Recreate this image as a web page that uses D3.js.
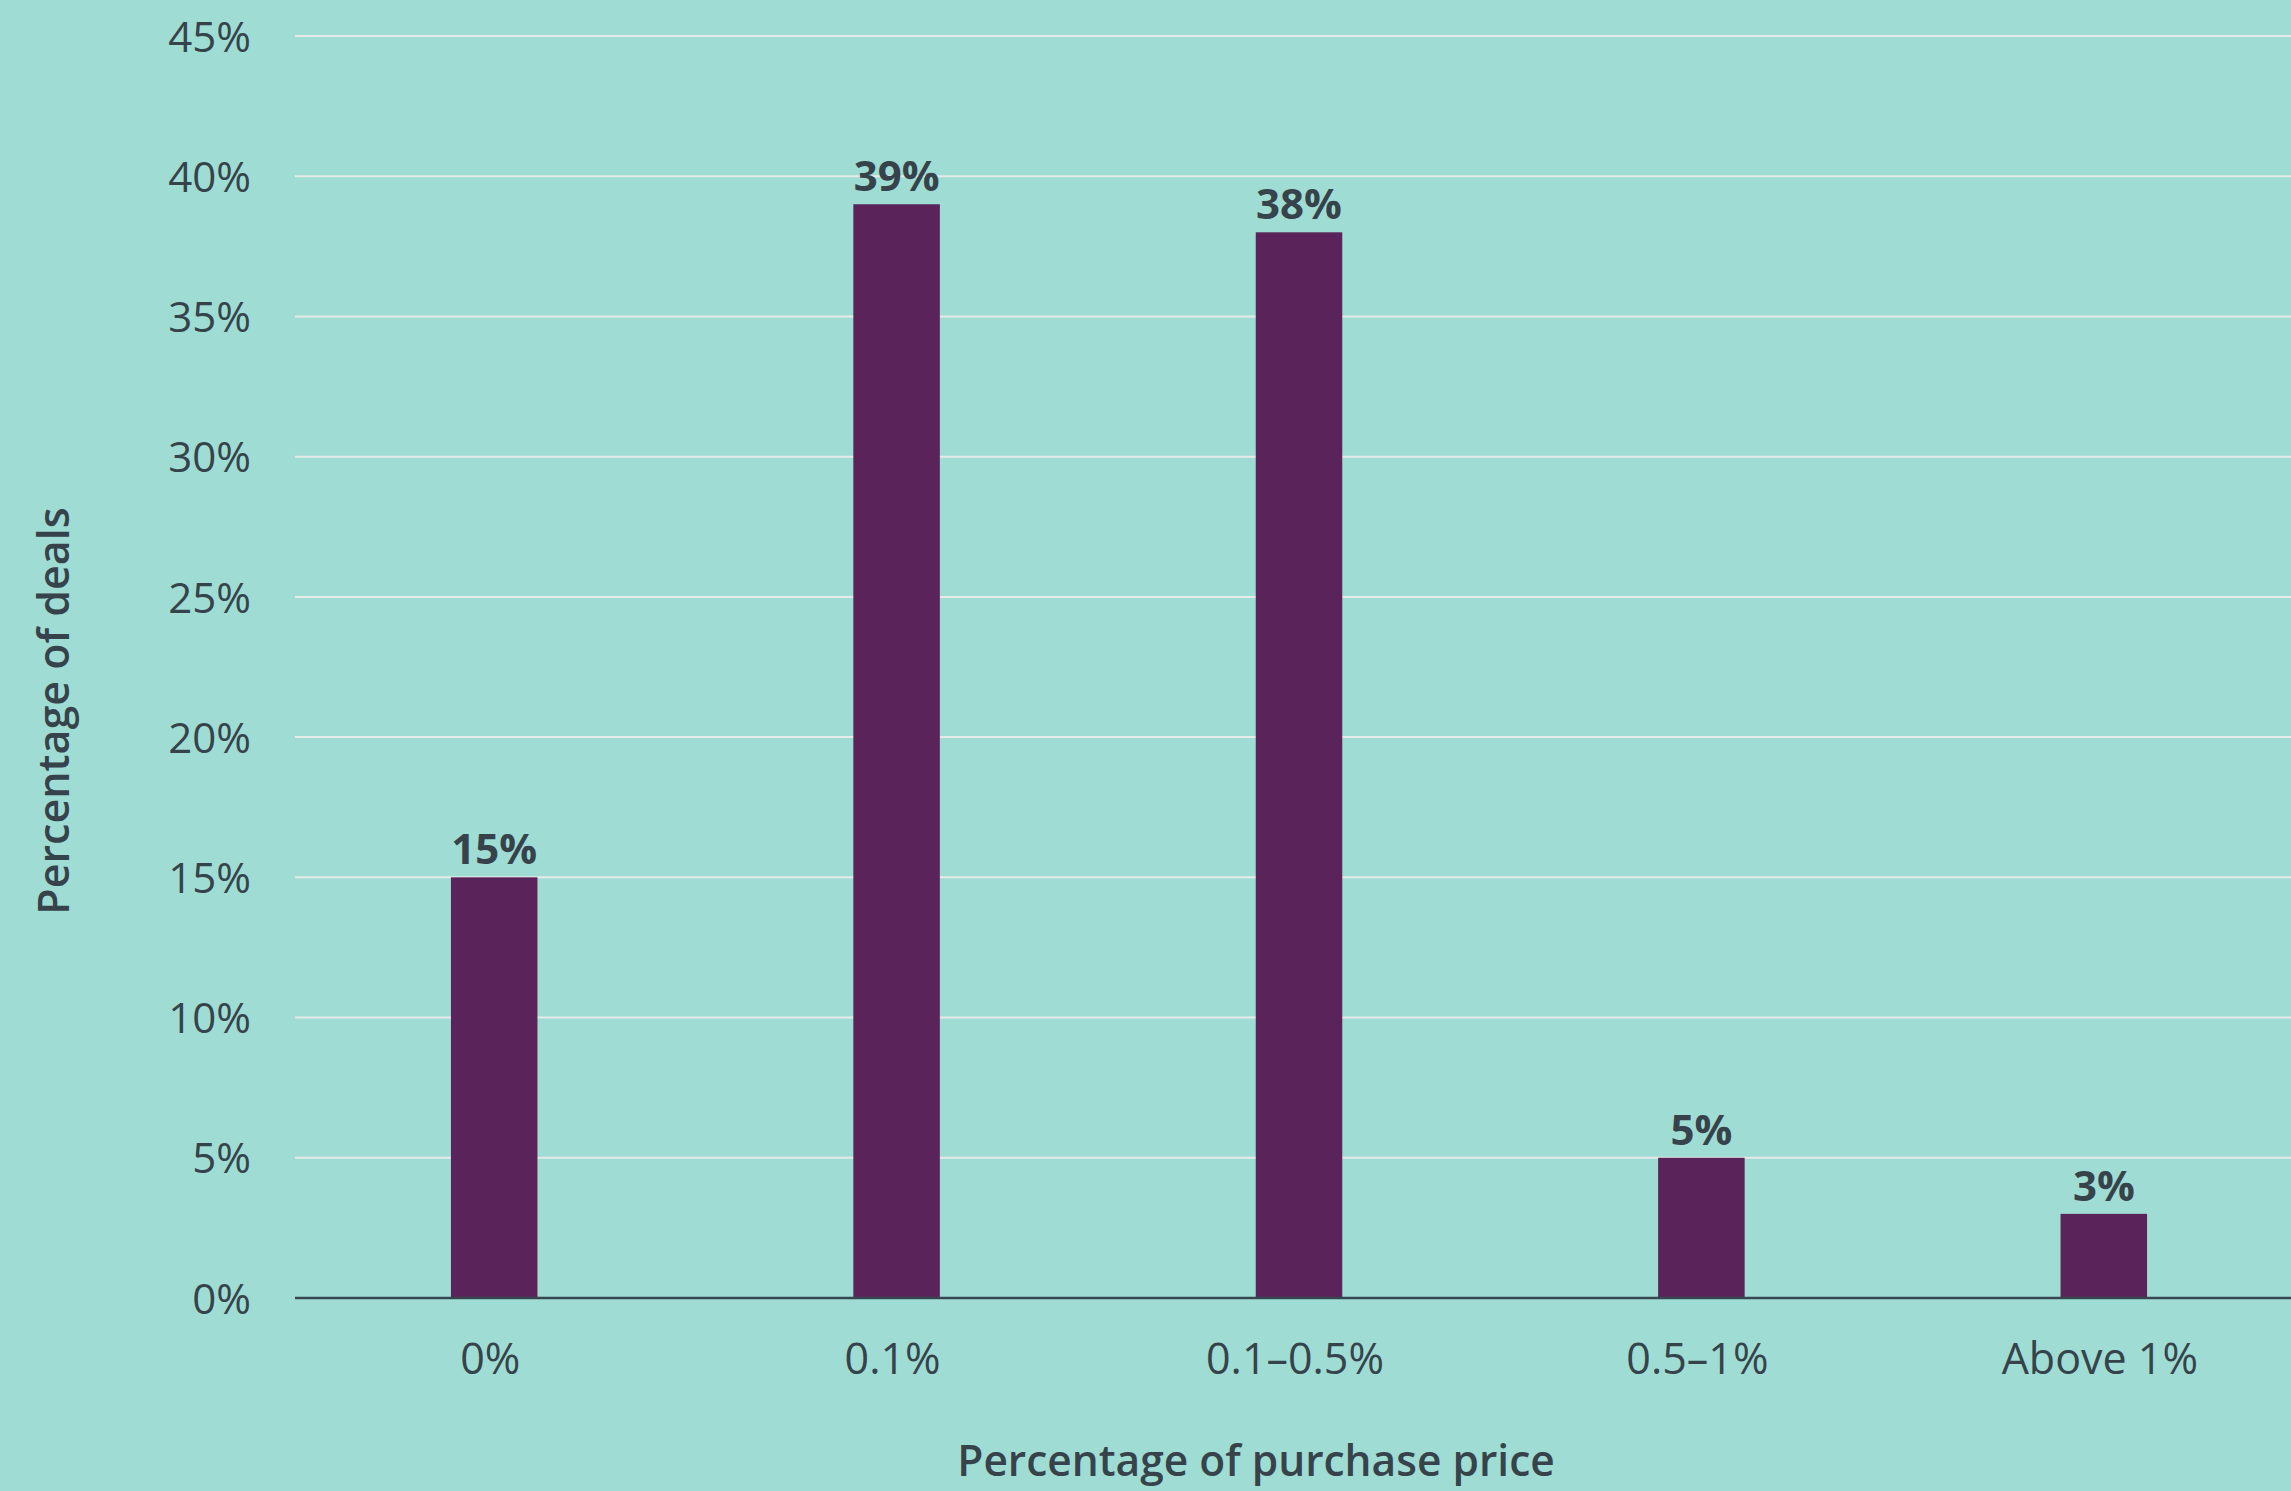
<html>
<head>
<script src="https://cdn.jsdelivr.net/npm/d3@7"></script>
<style>
  body { margin: 0; background: #9fddd4; }
  svg { display: block; }
  .tick text { font-family: "Open Sans", sans-serif; fill: #37434b; }
</style>
</head>
<body>
<svg></svg>
<script>
var width = 2291;
var height = 1491;

// data
var categories = ["0%", "0.1%", "0.1–0.5%", "0.5–1%", "Above 1%"];
var values = [15, 39, 38, 5, 3];
var yTicks = [0, 5, 10, 15, 20, 25, 30, 35, 40, 45];

var textColor = "#37434b";

var svg = d3.select("svg").attr("width", width).attr("height", height);

svg.append("rect").attr("width", width).attr("height", height).attr("fill", "#9fddd4");

var x = d3.scaleBand()
  .domain(categories)
  .range([294, 2304])
  .paddingInner(0.785)
  .paddingOuter(0.39);

var y = d3.scaleLinear().domain([0, 45]).range([1298, 36]);

// gridlines
svg.append("g")
  .selectAll("line")
  .data(yTicks.filter(function(d) { return d > 0; }))
  .enter().append("line")
  .attr("x1", 295)
  .attr("x2", width)
  .attr("y1", function(d) { return y(d); })
  .attr("y2", function(d) { return y(d); })
  .attr("stroke", "#e6ebe9")
  .attr("stroke-width", 2);

// y axis labels
var yAxis = svg.append("g")
  .attr("transform", "translate(251,0)")
  .call(d3.axisLeft(y).tickValues(yTicks).tickSize(0).tickPadding(0)
    .tickFormat(function(d) { return d + "%"; }));
yAxis.select(".domain").remove();
yAxis.selectAll("text").attr("font-size", 42).attr("dy", "0.36em");

// bars
svg.append("g")
  .selectAll("rect")
  .data(values)
  .enter().append("rect")
  .attr("x", function(d, i) { return x(categories[i]); })
  .attr("y", function(d) { return y(d); })
  .attr("width", x.bandwidth())
  .attr("height", function(d) { return y(0) - y(d); })
  .attr("fill", "#5a2359");

// value labels
svg.append("g")
  .selectAll("text")
  .data(values)
  .enter().append("text")
  .attr("x", function(d, i) { return x(categories[i]) + x.bandwidth() / 2; })
  .attr("y", function(d) { return y(d) - 13; })
  .attr("text-anchor", "middle")
  .attr("font-family", "Open Sans, sans-serif")
  .attr("font-weight", 700)
  .attr("font-size", 42)
  .attr("fill", textColor)
  .text(function(d) { return d + "%"; });

// x axis
var xAxis = svg.append("g")
  .attr("transform", "translate(0," + y(0) + ")")
  .call(d3.axisBottom(x).tickSize(0).tickPadding(0));
xAxis.select(".domain").remove();
xAxis.selectAll("text").attr("font-size", 43).attr("dy", 0).attr("y", 76).attr("dx", -4);

svg.append("line")
  .attr("x1", 295)
  .attr("x2", width)
  .attr("y1", y(0))
  .attr("y2", y(0))
  .attr("stroke", "#37474f")
  .attr("stroke-width", 2.5);

// axis titles
svg.append("text")
  .attr("x", 1256)
  .attr("y", 1476)
  .attr("text-anchor", "middle")
  .attr("font-family", "Open Sans, sans-serif")
  .attr("font-weight", 600)
  .attr("font-size", 42.5)
  .attr("fill", textColor)
  .text("Percentage of purchase price");

svg.append("text")
  .attr("transform", "translate(69,711) rotate(-90)")
  .attr("text-anchor", "middle")
  .attr("font-family", "Open Sans, sans-serif")
  .attr("font-weight", 600)
  .attr("font-size", 43)
  .attr("fill", textColor)
  .text("Percentage of deals");
</script>
</body>
</html>
